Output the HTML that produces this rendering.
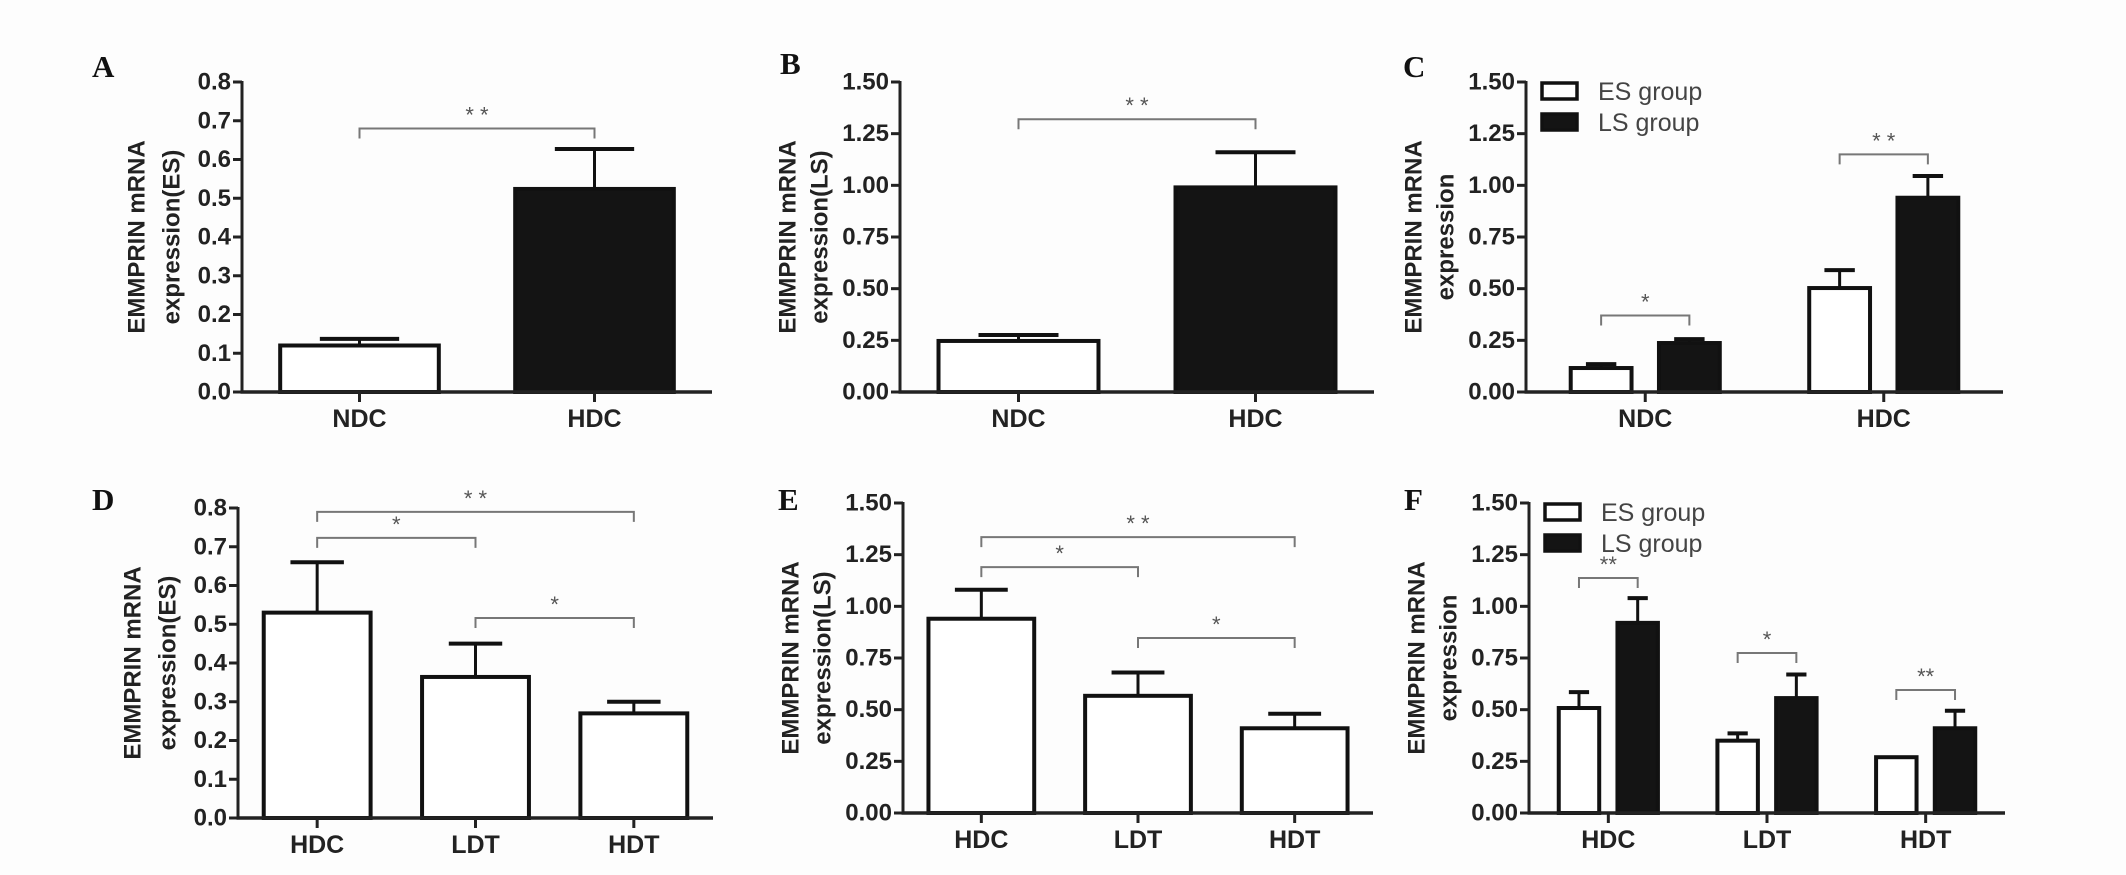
<!DOCTYPE html>
<html><head><meta charset="utf-8"><style>
html,body{margin:0;padding:0;background:#fdfdfd;}
svg{display:block;font-family:"Liberation Sans",Arial,sans-serif;}
</style></head><body>
<svg id="fig" width="2126" height="875" viewBox="0 0 2126 875" xmlns="http://www.w3.org/2000/svg">
<rect x="0" y="0" width="2126" height="875" fill="#fdfdfd"/>
</svg>
<script>
// ---------- data ----------
const catsNH = ["NDC","HDC"];
const catsHLH = ["HDC","LDT","HDT"];
const ticksA = ["0.0","0.1","0.2","0.3","0.4","0.5","0.6","0.7","0.8"];
const ticksB = ["0.00","0.25","0.50","0.75","1.00","1.25","1.50"];
const seriesNames = ["ES group","LS group"];

const aMeans = [0.12, 0.524];
const aErr = [0.017, 0.103];
const bMeans = [0.247, 0.99];
const bErr = [0.029, 0.17];
const cES = [0.116, 0.503];
const cESErr = [0.019, 0.087];
const cLS = [0.237, 0.94];
const cLSErr = [0.019, 0.105];
const dMeans = [0.53, 0.364, 0.27];
const dErr = [0.13, 0.086, 0.03];
const eMeans = [0.94, 0.567, 0.41];
const eErr = [0.14, 0.113, 0.07];
const fES = [0.508, 0.35, 0.27];
const fESErr = [0.077, 0.035, 0];
const fLS = [0.92, 0.556, 0.41];
const fLSErr = [0.12, 0.114, 0.085];

// brackets: [fromIndex, toIndex, level, stars]
const aSig = [[0,1,0.68,"* *"]];
const bSig = [[0,1,1.32,"* *"]];
const cSig = [[0,0,0.37,"*"],[1,1,1.15,"* *"]];
const dSig = [[0,2,0.79,"* *"],[0,1,0.723,"*"],[1,2,0.516,"*"]];
const eSig = [[0,2,1.335,"* *"],[0,1,1.19,"*"],[1,2,0.847,"*"]];
const fSig = [[0,0,1.137,"**"],[1,1,0.774,"*"],[2,2,0.595,"**"]];

// ---------- drawing ----------
const svg = document.getElementById('fig');
const NS = "http://www.w3.org/2000/svg";
function mk(tag, attrs, parent){
  const e = document.createElementNS(NS, tag);
  for (const k in attrs) e.setAttribute(k, attrs[k]);
  (parent||svg).appendChild(e);
  return e;
}

function panel(cfg){
  const g = mk('g', {});
  
  
  const x0 = cfg.x0, x1 = cfg.x1, yTop = cfg.yTop, yBot = cfg.yBot, max = cfg.max;
  const ys = v => yBot - v / max * (yBot - yTop);
  const n = cfg.cats.length;
  const bw = (x1 - x0) / n;
  const xc = i => x0 + (i + 0.5) * bw;

  const L = mk('text', {x: cfg.lx, y: cfg.ly, 'font-family': '"Liberation Serif",serif', 'font-weight': 'bold', 'font-size': 31, fill: '#111'}, g);
  L.textContent = cfg.letter;
  
  

  const ym = (yTop + yBot) / 2;
  const tOff = cfg.max > 1 ? [-112, -80] : [-105, -70];
  cfg.title.forEach((t, k) => {
    const tx = x0 + tOff[k];
    const te = mk('text', {x: tx, y: ym, 'font-weight': 'bold', 'font-size': 24, fill: '#222', 'text-anchor': 'middle', 'dominant-baseline': 'central', transform: `rotate(-90 ${tx} ${ym})`}, g);
    te.textContent = t;
    
    
  });

  cfg.ticks.forEach((t) => {
    const v = parseFloat(t);
    const y = ys(v);
    const tk = mk('line', {x1: x0 - 9, x2: x0, y1: y, y2: y, stroke: '#222', 'stroke-width': 3}, g);
    
    
    const tl = mk('text', {x: x0 - 11, y: y, 'font-weight': 'bold', 'font-size': 24, fill: '#222', 'text-anchor': 'end', 'dominant-baseline': 'central'}, g);
    tl.textContent = t;
    
    
  });

  function bar(cx, w, val, err, filled){
    const y = ys(val);
    if (err > 0) {
      const ye = ys(val + err);
      const el = mk('line', {x1: cx, x2: cx, y1: y, y2: ye, stroke: '#111', 'stroke-width': 3}, g);
      
      
      const cap = mk('line', {x1: cx - w/4, x2: cx + w/4, y1: ye, y2: ye, stroke: '#111', 'stroke-width': 4}, g);
      
      
    }
    const r = mk('rect', {x: cx - w/2, y: y, width: w, height: yBot - y, fill: filled ? '#141414' : '#fff', stroke: '#111', 'stroke-width': 4}, g);
    
    
  }
  if (cfg.grouped) {
    const w = bw * 0.255, off = bw * 0.185;
    for (let i = 0; i < n; i++) {
      bar(xc(i) - off, w, cfg.es[i], cfg.esErr[i], false);
      bar(xc(i) + off, w, cfg.ls[i], cfg.lsErr[i], true);
    }
  } else {
    const w = bw * 0.675;
    for (let i = 0; i < n; i++) bar(xc(i), w, cfg.means[i], cfg.errs[i], cfg.fills[i]);
  }

  const ya = mk('line', {x1: x0, x2: x0, y1: yTop - 1, y2: yBot + 1.5, stroke: '#222', 'stroke-width': 3}, g);
  
  
  const xa = mk('line', {x1: x0 - 1.5, x2: x1, y1: yBot, y2: yBot, stroke: '#222', 'stroke-width': 3.5}, g);
  
  
  cfg.cats.forEach((c, i) => {
    const tk = mk('line', {x1: xc(i), x2: xc(i), y1: yBot, y2: yBot + 10, stroke: '#222', 'stroke-width': 3}, g);
    
    
    const tl = mk('text', {x: xc(i), y: yBot + 35, 'font-weight': 'bold', 'font-size': 25, fill: '#222', 'text-anchor': 'middle'}, g);
    tl.textContent = c;
    
    
  });

  cfg.sig.forEach(s => {
    let xa1, xa2;
    if (cfg.grouped) { xa1 = xc(s[0]) - bw*0.185; xa2 = xc(s[1]) + bw*0.185; }
    else { xa1 = xc(s[0]); xa2 = xc(s[1]); }
    const y = ys(s[2]);
    const p = mk('path', {d: `M${xa1},${y+10} V${y} H${xa2} V${y+10}`, fill: 'none', stroke: '#777', 'stroke-width': 2}, g);
    
    
    const st = mk('text', {x: (xa1 + xa2)/2, y: y - 6, 'font-size': 22, fill: '#555', 'text-anchor': 'middle'}, g);
    st.textContent = s[3];
    
    
  });

  if (cfg.legend) {
    const lx = x0 + 16, ly = yTop;
    seriesNames.forEach((nm, k) => {
      const by = ly + k * 31;
      const b = mk('rect', {x: lx, y: by + 1, width: 35, height: 16, fill: k ? '#141414' : '#fff', stroke: '#111', 'stroke-width': 3.5}, g);
      
      
      const t = mk('text', {x: lx + 56, y: by + 10, 'font-size': 25, fill: '#444', 'dominant-baseline': 'central'}, g);
      t.textContent = nm;
      
      
    });
  }
}

panel({letter:'A', lx:92, ly:77, x0:242, x1:712, yTop:82, yBot:392, max:0.8, ticks:ticksA, cats:catsNH,
  title:['EMMPRIN mRNA','expression(ES)'], means:aMeans, errs:aErr, fills:[false,true], sig:aSig});
panel({letter:'B', lx:780, ly:74, x0:900, x1:1374, yTop:82, yBot:392, max:1.5, ticks:ticksB, cats:catsNH,
  title:['EMMPRIN mRNA','expression(LS)'], means:bMeans, errs:bErr, fills:[false,true], sig:bSig});
panel({letter:'C', lx:1403, ly:77, x0:1526, x1:2003, yTop:82, yBot:392, max:1.5, ticks:ticksB, cats:catsNH,
  title:['EMMPRIN mRNA','expression'], grouped:true, es:cES, esErr:cESErr, ls:cLS, lsErr:cLSErr, sig:cSig, legend:true});
panel({letter:'D', lx:92, ly:510, x0:238, x1:713, yTop:508, yBot:818, max:0.8, ticks:ticksA, cats:catsHLH,
  title:['EMMPRIN mRNA','expression(ES)'], means:dMeans, errs:dErr, fills:[false,false,false], sig:dSig});
panel({letter:'E', lx:778, ly:510, x0:903, x1:1373, yTop:503, yBot:813, max:1.5, ticks:ticksB, cats:catsHLH,
  title:['EMMPRIN mRNA','expression(LS)'], means:eMeans, errs:eErr, fills:[false,false,false], sig:eSig});
panel({letter:'F', lx:1404, ly:510, x0:1529, x1:2005, yTop:503, yBot:813, max:1.5, ticks:ticksB, cats:catsHLH,
  title:['EMMPRIN mRNA','expression'], grouped:true, es:fES, esErr:fESErr, ls:fLS, lsErr:fLSErr, sig:fSig, legend:true});
</script>
</body></html>
